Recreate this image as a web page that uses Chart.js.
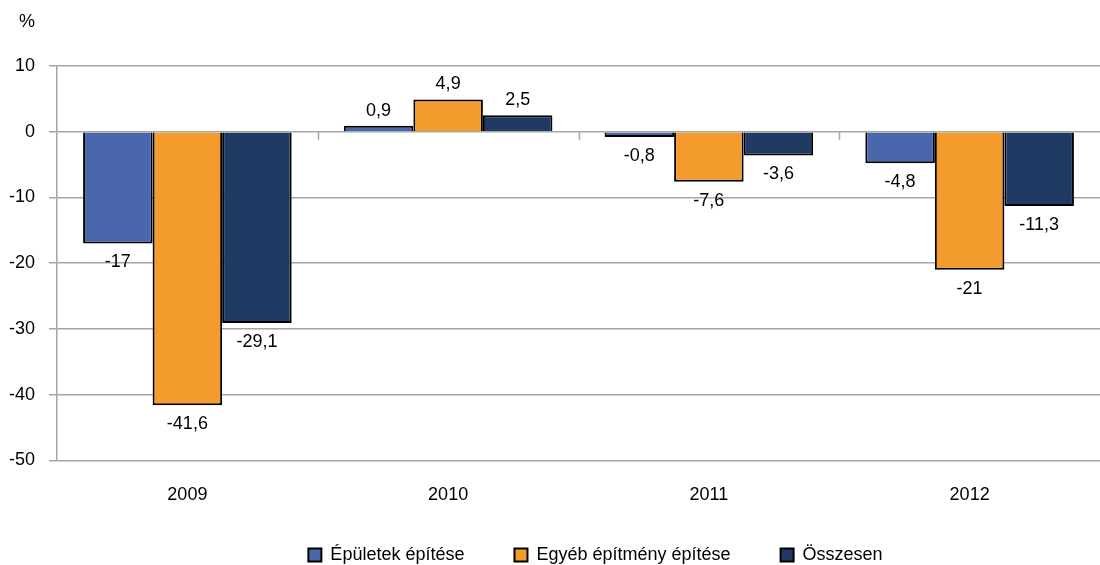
<!DOCTYPE html>
<html>
<head>
<meta charset="utf-8">
<script src="https://cdn.jsdelivr.net/npm/chart.js@4.4.1/dist/chart.umd.min.js"></script>
<style>
  html, body { margin: 0; padding: 0; background: #fff; overflow: hidden; }
  #wrap { width: 1100px; height: 565px; }
</style>
</head>
<body>
<div id="wrap"><canvas id="chart"></canvas></div>
<script>
// data
const years = ["2009", "2010", "2011", "2012"];
const epuletek = [-17, 0.9, -0.8, -4.8];
const egyeb = [-41.6, 4.9, -7.6, -21];
const osszesen = [-29.1, 2.5, -3.6, -11.3];
const yTicks = [10, 0, -10, -20, -30, -40, -50];

const FONT = "'Liberation Sans', Arial, sans-serif";
const GRID = "#a6a6a6";

function huNum(v) {
    return String(v).replace(".", ",");
}

// value labels + small category ticks on the zero line + "%" unit
const extras = {
    id: "extras",
    afterUpdate(chart) {
        // legend sits a bit right of the canvas centre and a bit higher in the original
        const lg = chart.legend;
        lg.left += 43;
        lg.right += 43;
        lg.top -= 34;
        lg.bottom -= 34;
    },
    afterDatasetsDraw(chart) {
        const ctx = chart.ctx;
        const x = chart.scales.x;
        const y = chart.scales.y;
        const zero = y.getPixelForValue(0);

        ctx.save();
        ctx.strokeStyle = GRID;
        ctx.lineWidth = 1.5;
        for (let i = 0; i < years.length - 1; i++) {
            const bx = Math.round((x.getPixelForValue(i) + x.getPixelForValue(i + 1)) / 2) + 0.5;
            ctx.beginPath();
            ctx.moveTo(bx, zero);
            ctx.lineTo(bx, zero + 8);
            ctx.stroke();
        }

        ctx.font = "18px " + FONT;
        ctx.fillStyle = "#000";
        ctx.textAlign = "center";
        ctx.textBaseline = "middle";
        chart.data.datasets.forEach((ds, di) => {
            chart.getDatasetMeta(di).data.forEach((bar, i) => {
                const v = ds.data[i];
                const ly = v >= 0 ? bar.y - 15 : bar.y + 19;
                ctx.fillText(huNum(v), bar.x, ly);
            });
        });

        ctx.textAlign = "right";
        ctx.fillText("%", y.right - 22, 22);
        ctx.restore();
    }
};

new Chart(document.getElementById("chart"), {
    type: "bar",
    data: {
        labels: years,
        datasets: [
            { label: "Épületek építése", data: epuletek, backgroundColor: "#4a66ac" },
            { label: "Egyéb építmény építése", data: egyeb, backgroundColor: "#f49b2e" },
            { label: "Összesen", data: osszesen, backgroundColor: "#203a63" }
        ]
    },
    options: {
        responsive: true,
        maintainAspectRatio: false,
        animation: false,
        layout: { padding: { top: 66, right: -5, bottom: -43, left: 0 } },
        datasets: {
            bar: {
                barPercentage: 1,
                categoryPercentage: 0.8,
                borderColor: "#000",
                borderWidth: 2
            }
        },
        plugins: {
            tooltip: { enabled: false },
            legend: {
                position: "bottom",
                labels: {
                    boxWidth: 13,
                    boxHeight: 13,
                    padding: 50,
                    color: "#000",
                    font: { family: FONT, size: 18 }
                }
            }
        },
        scales: {
            x: {
                grid: { display: false, drawTicks: false },
                border: { display: false },
                ticks: { color: "#000", padding: 24, font: { family: FONT, size: 18 } }
            },
            y: {
                min: -50,
                max: 10,
                afterFit(scale) { scale.width = 57; },
                afterBuildTicks(scale) { scale.ticks = yTicks.map(v => ({ value: v })); },
                grid: { color: GRID, lineWidth: 1.5, tickLength: 8 },
                border: { display: true, color: GRID, width: 1.5 },
                ticks: {
                    color: "#000",
                    padding: 14,
                    font: { family: FONT, size: 18 },
                    callback: v => huNum(v)
                }
            }
        }
    },
    plugins: [extras]
});
</script>
</body>
</html>
